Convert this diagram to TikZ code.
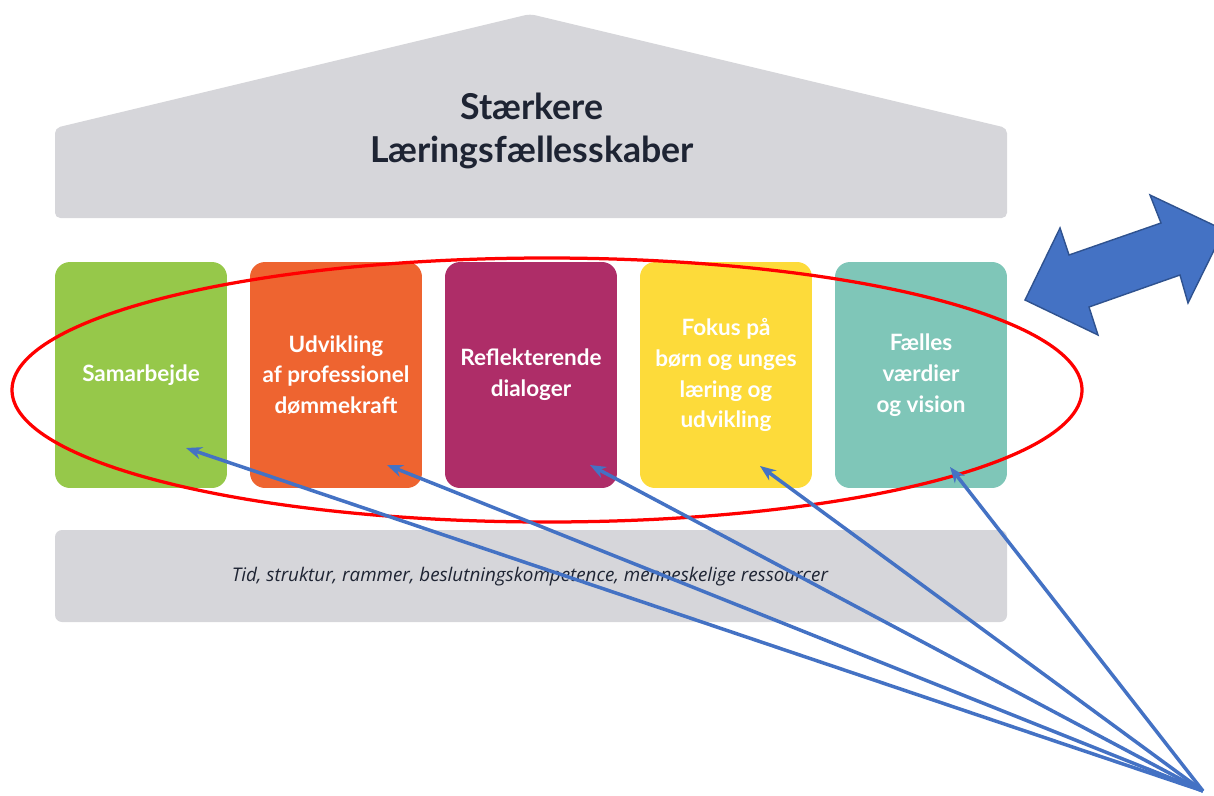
\documentclass[tikz,border=0pt]{standalone}
\usepackage{fontspec}
\setmainfont{Lato}
\newfontfamily\basefont{Open Sans}
\usetikzlibrary{arrows.meta}
\definecolor{roofgray}{HTML}{D6D6DA}
\definecolor{titleink}{HTML}{1E2433}
\definecolor{pgreen}{HTML}{96C84A}
\definecolor{porange}{HTML}{EE6430}
\definecolor{ppurple}{HTML}{AE2D68}
\definecolor{pyellow}{HTML}{FDDB3A}
\definecolor{pteal}{HTML}{7FC6B8}
\definecolor{ablue}{HTML}{4472C4}
\definecolor{ablueedge}{HTML}{2F528F}
\definecolor{ered}{HTML}{FF0000}
\tikzset{
  pillar/.style={rounded corners=8.5pt, minimum width=3.44cm, minimum height=4.52cm,
    inner sep=0pt, text=white, align=center,
    font=\fontsize{12.8}{17.6}\selectfont\bfseries},
  pointer/.style={draw=ablue, line width=0.07cm, -{Stealth[length=9pt,width=7pt]}},
}
\begin{document}
\begin{tikzpicture}[x=0.02cm,y=-0.02cm]
\useasboundingbox (0,0) rectangle (1214,795);
% roof
\fill[roofgray, rounded corners=3pt] (55,128) -- (530,14) -- (1007,128) -- (1007,218) -- (55,218) -- cycle;
\node[text=titleink, align=center, font=\fontsize{20.3}{25}\selectfont\bfseries] (title) at (532,131) {Stærkere\\Læringsfællesskaber};
% pillars
\node[pillar, fill=pgreen] (p1) at (141,375) {Samarbejde};
\node[pillar, fill=porange] (p2) at (336,375) {Udvikling\\af professionel\\dømmekraft};
\node[pillar, fill=ppurple] (p3) at (531,375) {Reflekterende\\dialoger};
\node[pillar, fill=pyellow] (p4) at (726,375) {Fokus på\\børn og unges\\læring og\\udvikling};
\node[pillar, fill=pteal] (p5) at (921,375) {Fælles\\værdier\\og vision};
% base
\fill[roofgray, rounded corners=4pt] (55,530) rectangle (1007,622);
\node[text=titleink, font=\basefont\fontsize{10.7}{12}\selectfont\itshape] (base) at (530,577) {Tid, struktur, rammer, beslutningskompetence, menneskelige ressourcer};
% red ellipse
\draw[ered, line width=0.065cm] (547,390) ellipse [x radius=535, y radius=132];
% double arrow
\begin{scope}
\clip (0,0) rectangle (1214,795);
\filldraw[fill=ablue, draw=ablueedge, line width=0.8pt, line join=miter]
  (1025,300) -- (1060,228) -- (1069,255) -- (1161,223) -- (1150,195) -- (1224,230)
  -- (1188,303) -- (1180,275) -- (1089,307) -- (1098,335) -- cycle;
\end{scope}
% pointers
\coordinate (src) at (1203,791);
\coordinate (t1) at (186,448);
\coordinate (t2) at (387,465);
\coordinate (t3) at (590,465);
\coordinate (t4) at (760,466);
\coordinate (t5) at (950,467);
\foreach \t in {t1,t2,t3,t4,t5} \draw[pointer] (src) -- (\t);
\end{tikzpicture}
\end{document}
